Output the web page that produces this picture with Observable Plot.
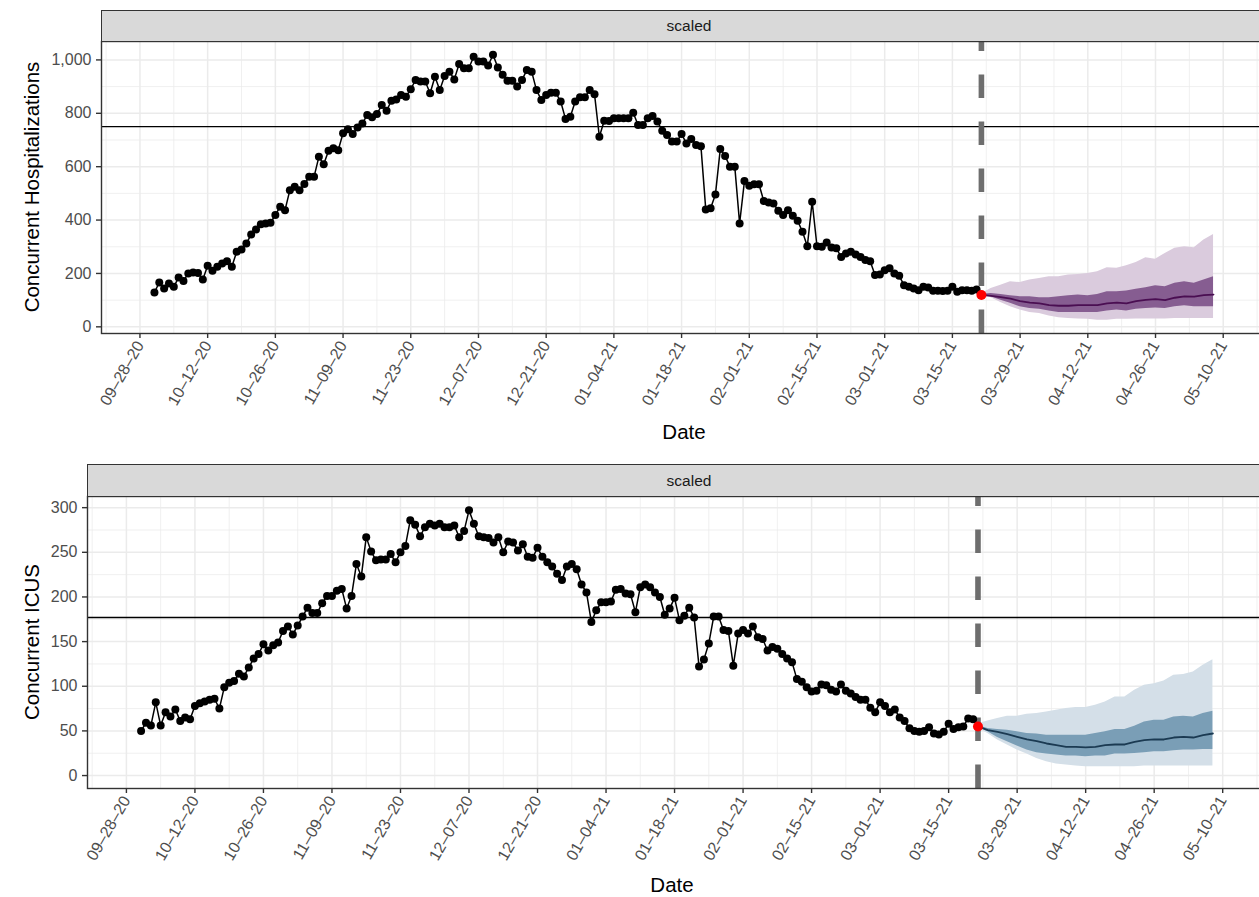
<!DOCTYPE html>
<html>
<head>
<meta charset="utf-8">
<script src="https://cdn.jsdelivr.net/npm/d3@7"></script>
<script src="https://cdn.jsdelivr.net/npm/@observablehq/plot@0.6"></script>
<style>
  html, body { margin: 0; padding: 0; overflow: hidden; background: white; }
  #root { position: relative; width: 1259px; height: 897px; overflow: hidden; background: white;
          font-family: "Liberation Sans", Arial, Helvetica, sans-serif; }
  .panel { position: absolute; left: 0; width: 1267px; }
  .panel svg { max-width: none !important; }
  .strip { position: absolute; background: #D9D9D9; border: 1.3px solid #333333; box-sizing: border-box;
           color: #1A1A1A; font-size: 15.5px; display: flex; align-items: center; justify-content: center; }
  .ytitle { position: absolute; font-size: 20.5px; color: black; white-space: nowrap;
            transform: translate(-50%, -50%) rotate(-90deg); }
  .xtitle { position: absolute; font-size: 20.5px; color: black; white-space: nowrap;
            transform: translate(-50%, -50%); }
</style>
</head>
<body>
<div id="root">
  <div id="top" class="panel" style="top:0px"></div>
  <div id="bot" class="panel" style="top:450px"></div>
</div>
<script>
// ---------------- data ----------------
const obsStart = "2020-10-01";           // first observed day (daily series)
const hospObserved = [
  129,166,144,162,150,185,172,200,204,202,177,229,210,225,237,246,225,281,290,312,
  346,365,384,387,390,419,450,437,512,525,512,535,562,562,637,609,660,669,662,725,
  740,722,747,762,794,785,797,831,810,847,852,869,862,890,925,919,919,875,937,887,
  940,956,927,985,969,969,1012,994,994,979,1019,972,944,922,922,900,925,962,956,887,
  850,869,877,877,844,779,787,844,860,860,887,871,712,772,771,781,781,781,781,802,
  756,756,781,790,769,735,719,694,694,722,687,704,681,677,440,444,496,666,640,600,
  600,387,546,529,534,534,471,466,462,435,419,437,416,397,356,302,469,302,300,316,
  297,294,262,275,281,271,262,250,246,194,196,212,219,200,191,156,150,144,137,150,
  147,135,135,134,135,150,131,137,137,135,140,119
];
const icuObserved = [
  50,59,56,82,56,71,66,74,61,65,63,78,81,83,85,86,75,99,104,106,
  114,111,121,131,136,147,140,146,149,162,167,158,168,178,188,182,182,193,201,201,
  207,209,187,201,237,223,267,251,241,242,242,248,239,250,257,286,281,268,278,282,
  280,282,278,278,280,267,274,297,282,268,267,266,261,267,250,262,261,252,259,245,
  244,255,245,239,234,226,219,234,237,231,214,205,172,185,194,194,195,208,209,204,
  203,183,211,214,211,205,200,180,187,199,174,179,188,177,122,130,148,178,178,163,
  162,123,159,163,159,167,155,153,140,144,142,136,131,127,108,105,99,94,95,102,
  101,96,94,102,95,92,88,85,85,76,71,82,78,71,74,65,61,53,50,49,
  50,54,47,46,49,58,52,54,55,64,63,55
];

const forecastDates = [
  "2021-03-21","2021-03-23","2021-03-25","2021-03-27","2021-03-29","2021-03-31",
  "2021-04-02","2021-04-04","2021-04-06","2021-04-08","2021-04-10","2021-04-12",
  "2021-04-14","2021-04-16","2021-04-18","2021-04-20","2021-04-22","2021-04-24",
  "2021-04-26","2021-04-28","2021-04-30","2021-05-02","2021-05-04","2021-05-06","2021-05-08"
];
const hospMedian = [120,116,111,106,96,91,88,81,79,79,81,81,81,88,91,88,96,101,104,100,109,114,113,119,121];
const hospHi50   = [122,125,121,116,113,113,109,109,113,116,119,116,121,131,131,134,141,146,154,150,163,169,163,175,188];
const hospLo50   = [119,113,100,88,75,69,66,59,54,54,54,54,54,59,63,59,66,69,71,69,75,79,75,75,75];
const hospHi90   = [124,144,156,169,166,175,181,188,188,194,196,200,206,221,219,229,241,259,253,275,294,300,296,325,346];
const hospLo90   = [117,109,91,75,63,54,50,41,34,31,29,28,25,25,28,28,29,29,29,29,31,31,31,31,31];

const icuMedian = [55,50.8,49,46.4,43.4,40.4,38.5,35.9,34.1,32.2,32.2,31.5,32.2,34.1,34.8,34.8,37.8,39.7,40.4,40.4,42.6,43.4,42.6,45.2,47.1];
const icuHi50   = [56,52.7,51.6,50.8,49,47.1,46.4,45.2,45.2,45.2,45.2,45.2,47.1,49,51.6,51.6,55.3,60.1,62,62,65.7,66.4,65.7,69.4,72];
const icuLo50   = [54.5,49,42.6,37.8,33,28.5,25.5,24,22.9,21.8,21.8,21,21.8,21.8,24,24,24.8,25.5,26.6,26.6,27.8,28.5,28.5,29.2,29.2];
const icuHi90   = [58,61.2,63.8,66.4,66.4,68.7,69.4,71.3,73.1,75,76.1,76.1,78.7,82.4,88,88,95.5,101,102.9,105.9,112.2,113.3,115.9,123.4,129.7];
const icuLo90   = [53,47.1,39.7,34.1,28.5,24,19.2,15.5,12.9,11.8,10.6,9.9,9.9,9.9,9.9,9.9,9.9,10.6,10.6,10.6,10.6,10.6,10.6,10.6,10.6];

const hospCapacity = 750;
const icuCapacity = 177;
const forecastStart = "2021-03-21";

const majorTickDates = ["2020-09-28","2020-10-12","2020-10-26","2020-11-09","2020-11-23","2020-12-07",
  "2020-12-21","2021-01-04","2021-01-18","2021-02-01","2021-02-15","2021-03-01","2021-03-15",
  "2021-03-29","2021-04-12","2021-04-26","2021-05-10"];
const minorTickDates = ["2020-09-21","2020-10-05","2020-10-19","2020-11-02","2020-11-16","2020-11-30",
  "2020-12-14","2020-12-28","2021-01-11","2021-01-25","2021-02-08","2021-02-22","2021-03-08",
  "2021-03-22","2021-04-05","2021-04-19","2021-05-03","2021-05-17"];
const hospMajorTicks = [0,200,400,600,800,1000];
const hospMinorTicks = [100,300,500,700,900];
const icuMajorTicks = [0,50,100,150,200,250,300];
const icuMinorTicks = [25,75,125,175,225,275];

const xDomain = ["2020-09-20T01:12:00Z", "2021-05-18T22:48:00Z"];
const hospYDomain = [-25, 1069];
const icuYDomain = [-14.5, 312.5];

const stripLabel = "scaled";
const xTitle = "Date";
const hospTitle = "Concurrent Hospitalizations";
const icuTitle = "Concurrent ICUS";

// ---------------- helpers ----------------
const parse = d3.utcParse("%Y-%m-%d");
const parseT = s => new Date(s);
const fmt = d3.utcFormat("%m\u2013%d\u2013%y");

function observedRows(values) {
  const s = parse(obsStart);
  return values.map((v, i) => ({date: d3.utcDay.offset(s, i), value: v}));
}
function forecastRows(med, lo50, hi50, lo90, hi90) {
  return forecastDates.map((d, i) => ({date: parse(d), med: med[i], lo50: lo50[i], hi50: hi50[i], lo90: lo90[i], hi90: hi90[i]}));
}

function panel(cfg) {
  const obs = observedRows(cfg.observed);
  const fc = forecastRows(cfg.med, cfg.lo50, cfg.hi50, cfg.lo90, cfg.hi90);
  const last = obs[obs.length - 1];
  const grid = "#EBEBEB";
  return Plot.plot({
    width: 1267, height: cfg.height,
    marginLeft: cfg.marginLeft, marginRight: 1, marginTop: cfg.marginTop, marginBottom: cfg.marginBottom,
    style: {fontFamily: '"Liberation Sans", Arial, Helvetica, sans-serif', fontSize: "16px", background: "white",
            overflow: "visible", maxWidth: "none"},
    x: {type: "utc", domain: xDomain.map(parseT)},
    y: {domain: cfg.yDomain},
    marks: [
      Plot.gridX(minorTickDates.map(parse), {stroke: grid, strokeOpacity: 1, strokeWidth: 0.75}),
      Plot.gridY(cfg.minor, {stroke: grid, strokeOpacity: 1, strokeWidth: 0.75}),
      Plot.gridX(majorTickDates.map(parse), {stroke: grid, strokeOpacity: 1, strokeWidth: 1.5}),
      Plot.gridY(cfg.major, {stroke: grid, strokeOpacity: 1, strokeWidth: 1.5}),
      Plot.areaY(fc, {x: "date", y1: "lo90", y2: "hi90", fill: cfg.light, curve: "linear"}),
      Plot.areaY(fc, {x: "date", y1: "lo50", y2: "hi50", fill: cfg.dark, curve: "linear"}),
      Plot.line(fc, {x: "date", y: "med", stroke: cfg.lineColor, strokeWidth: 1.8}),
      Plot.ruleY([cfg.capacity], {stroke: "black", strokeWidth: 1.4}),
      Plot.ruleX([parse(forecastStart)], {y1: cfg.yDomain[0], y2: cfg.yDomain[1], stroke: "#6E6E6E", strokeWidth: 5.6, strokeDasharray: "23.5,23.5"}),
      Plot.line(obs, {x: "date", y: "value", stroke: "black", strokeWidth: 1.5}),
      Plot.dot(obs, {x: "date", y: "value", r: 4, fill: "black", stroke: "none"}),
      Plot.dot([last], {x: "date", y: "value", r: 5, fill: "#FF0000", stroke: "none"}),
      Plot.frame({stroke: "#333333", strokeWidth: 1.4}),
      Plot.axisX(majorTickDates.map(parse), {tickFormat: fmt, tickRotate: -60, tickSize: 5, tickPadding: 4,
        label: null, fill: "#4D4D4D", stroke: "#333333", strokeWidth: 1.4, fontSize: 16}),
      Plot.axisY(cfg.major, {tickFormat: d3.format(","), tickSize: 5, tickPadding: 5,
        label: null, fill: "#4D4D4D", stroke: "#333333", strokeWidth: 1.4, fontSize: 16})
    ]
  });
}

const root = document.getElementById("root");
function addDiv(cls, style, text) {
  const d = document.createElement("div");
  d.className = cls;
  Object.assign(d.style, style);
  d.textContent = text;
  root.appendChild(d);
}

const topCfg = {observed: hospObserved, med: hospMedian, lo50: hospLo50, hi50: hospHi50, lo90: hospLo90, hi90: hospHi90,
  capacity: hospCapacity, major: hospMajorTicks, minor: hospMinorTicks, yDomain: hospYDomain,
  height: 450, marginLeft: 101, marginTop: 41, marginBottom: 117,
  light: "#DACBDD", dark: "#865D91", lineColor: "#4A0E52"};
const botCfg = {observed: icuObserved, med: icuMedian, lo50: icuLo50, hi50: icuHi50, lo90: icuLo90, hi90: icuHi90,
  capacity: icuCapacity, major: icuMajorTicks, minor: icuMinorTicks, yDomain: icuYDomain,
  height: 447, marginLeft: 87, marginTop: 46, marginBottom: 109,
  light: "#D4DFE8", dark: "#7A9EB6", lineColor: "#1B3A52"};

document.getElementById("top").appendChild(panel(topCfg));
document.getElementById("bot").appendChild(panel(botCfg));

// strips (facet labels)
addDiv("strip", {left: "101px", top: "9.5px", width: "1176px", height: "32px"}, stripLabel);
addDiv("strip", {left: "87px", top: "464px", width: "1204px", height: "33px"}, stripLabel);
// axis titles
addDiv("ytitle", {left: "32px", top: "187px"}, hospTitle);
addDiv("ytitle", {left: "32px", top: "642px"}, icuTitle);
addDiv("xtitle", {left: "684px", top: "432px"}, xTitle);
addDiv("xtitle", {left: "672px", top: "885px"}, xTitle);
</script>
</body>
</html>
